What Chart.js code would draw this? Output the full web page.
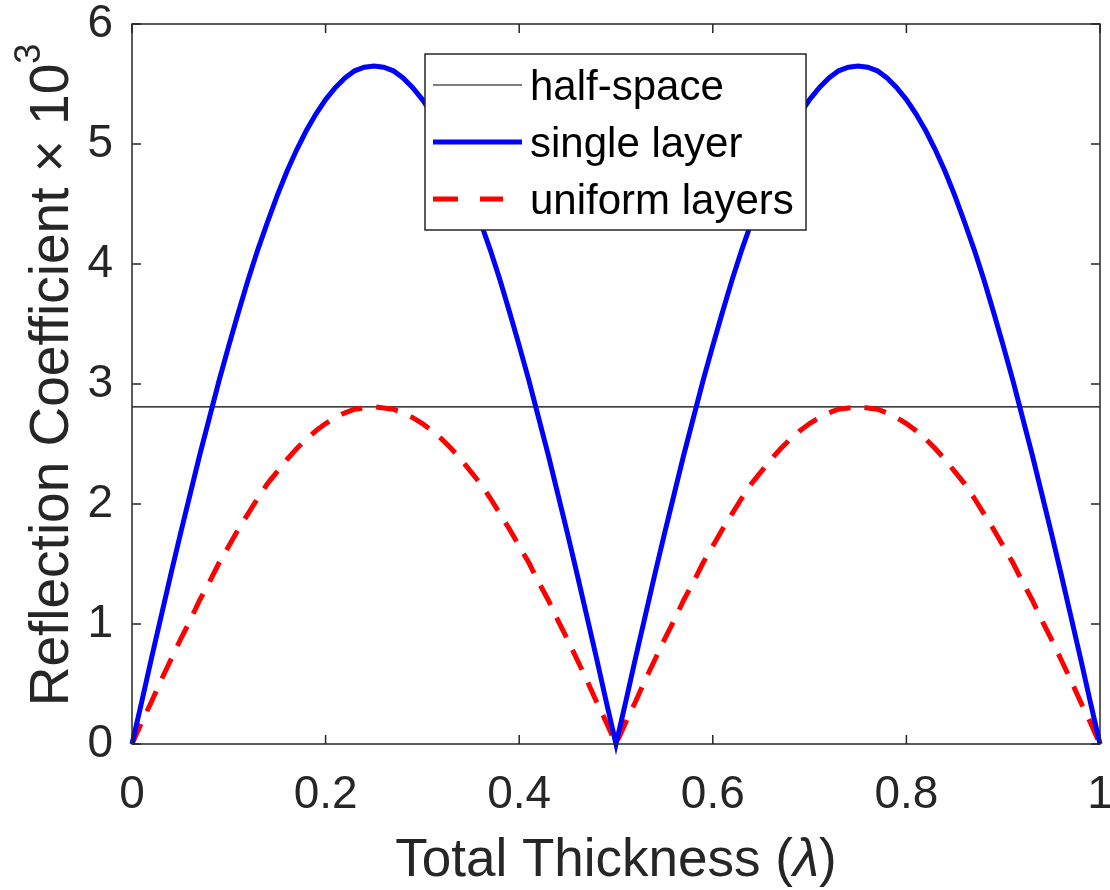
<!DOCTYPE html>
<html>
<head>
<meta charset="utf-8">
<script src="https://cdn.jsdelivr.net/npm/chart.js@4.4.1/dist/chart.umd.min.js"></script>
<style>
  html, body { margin: 0; padding: 0; background: #fff; }
  #wrap { width: 1110px; height: 890px; }
</style>
</head>
<body>
<div id="wrap"><canvas id="reflectionChart" width="1110" height="890"></canvas></div>
<script>
// total thickness in wavelengths
const thickness = [0, 0.01, 0.02, 0.03, 0.04, 0.05, 0.06, 0.07, 0.08, 0.09,
  0.1, 0.11, 0.12, 0.13, 0.14, 0.15, 0.16, 0.17, 0.18, 0.19,
  0.2, 0.21, 0.22, 0.23, 0.24, 0.25, 0.26, 0.27, 0.28, 0.29,
  0.3, 0.31, 0.32, 0.33, 0.34, 0.35, 0.36, 0.37, 0.38, 0.39,
  0.4, 0.41, 0.42, 0.43, 0.44, 0.45, 0.46, 0.47, 0.48, 0.49,
  0.5, 0.51, 0.52, 0.53, 0.54, 0.55, 0.56, 0.57, 0.58, 0.59,
  0.6, 0.61, 0.62, 0.63, 0.64, 0.65, 0.66, 0.67, 0.68, 0.69,
  0.7, 0.71, 0.72, 0.73, 0.74, 0.75, 0.76, 0.77, 0.78, 0.79,
  0.8, 0.81, 0.82, 0.83, 0.84, 0.85, 0.86, 0.87, 0.88, 0.89,
  0.9, 0.91, 0.92, 0.93, 0.94, 0.95, 0.96, 0.97, 0.98, 0.99, 1];

// reflection coefficient x 10^3
const singleLayer = [0, 0.35, 0.71, 1.06, 1.41, 1.75, 2.08, 2.41, 2.72, 3.03,
  3.32, 3.60, 3.87, 4.12, 4.35, 4.57, 4.77, 4.95, 5.11, 5.25,
  5.37, 5.47, 5.55, 5.61, 5.64, 5.65, 5.64, 5.61, 5.55, 5.47,
  5.37, 5.25, 5.11, 4.95, 4.77, 4.57, 4.35, 4.12, 3.87, 3.60,
  3.32, 3.03, 2.72, 2.41, 2.08, 1.75, 1.41, 1.06, 0.71, 0.35,
  0, 0.35, 0.71, 1.06, 1.41, 1.75, 2.08, 2.41, 2.72, 3.03,
  3.32, 3.60, 3.87, 4.12, 4.35, 4.57, 4.77, 4.95, 5.11, 5.25,
  5.37, 5.47, 5.55, 5.61, 5.64, 5.65, 5.64, 5.61, 5.55, 5.47,
  5.37, 5.25, 5.11, 4.95, 4.77, 4.57, 4.35, 4.12, 3.87, 3.60,
  3.32, 3.03, 2.72, 2.41, 2.08, 1.75, 1.41, 1.06, 0.71, 0.35, 0];

const uniformLayers = [0, 0.18, 0.35, 0.53, 0.70, 0.87, 1.03, 1.20, 1.35, 1.51,
  1.65, 1.79, 1.92, 2.05, 2.17, 2.27, 2.37, 2.46, 2.54, 2.61,
  2.67, 2.72, 2.76, 2.79, 2.80, 2.81, 2.80, 2.79, 2.76, 2.72,
  2.67, 2.61, 2.54, 2.46, 2.37, 2.27, 2.17, 2.05, 1.92, 1.79,
  1.65, 1.51, 1.35, 1.20, 1.03, 0.87, 0.70, 0.53, 0.35, 0.18,
  0, 0.18, 0.35, 0.53, 0.70, 0.87, 1.03, 1.20, 1.35, 1.51,
  1.65, 1.79, 1.92, 2.05, 2.17, 2.27, 2.37, 2.46, 2.54, 2.61,
  2.67, 2.72, 2.76, 2.79, 2.80, 2.81, 2.80, 2.79, 2.76, 2.72,
  2.67, 2.61, 2.54, 2.46, 2.37, 2.27, 2.17, 2.05, 1.92, 1.79,
  1.65, 1.51, 1.35, 1.20, 1.03, 0.87, 0.70, 0.53, 0.35, 0.18, 0];

const halfSpaceX = [0, 1];
const halfSpace = [2.81, 2.81];

const xTickLabels = ['0', '0.2', '0.4', '0.6', '0.8', '1'];
const yTickLabels = ['0', '1', '2', '3', '4', '5', '6'];

const xTitleParts = ['Total Thickness (', 'λ', ')'];
const yTitleParts = ['Reflection Coefficient × 10', '3'];

const axisColor = '#262626';
const fontFamily = '"Liberation Sans", Arial, Helvetica, sans-serif';

function toPoints(xs, ys) {
  return xs.map((x, i) => ({ x: x, y: ys[i] }));
}

// matlab style box with inward ticks on all four sides
const axesBox = {
  id: 'axesBox',
  afterDatasetsDraw(chart) {
    const { ctx, chartArea: a, scales } = chart;
    const len = 9;
    ctx.save();
    ctx.strokeStyle = axisColor;
    ctx.lineWidth = 1.5;
    ctx.strokeRect(a.left, a.top, a.right - a.left, a.bottom - a.top);
    ctx.beginPath();
    scales.x.ticks.forEach(t => {
      const px = scales.x.getPixelForValue(t.value);
      ctx.moveTo(px, a.bottom); ctx.lineTo(px, a.bottom - len);
      ctx.moveTo(px, a.top); ctx.lineTo(px, a.top + len);
    });
    scales.y.ticks.forEach(t => {
      const py = scales.y.getPixelForValue(t.value);
      ctx.moveTo(a.left, py); ctx.lineTo(a.left + len, py);
      ctx.moveTo(a.right, py); ctx.lineTo(a.right - len, py);
    });
    ctx.stroke();
    ctx.restore();
  }
};

// text runs with mixed fonts (italic lambda, superscript)
function runsWidth(ctx, runs) {
  return runs.reduce((w, r) => { ctx.font = r.font; return w + ctx.measureText(r.text).width; }, 0);
}
function drawRuns(ctx, runs, x, y) {
  runs.forEach(r => {
    ctx.font = r.font;
    ctx.fillText(r.text, x, y - (r.rise || 0));
    x += ctx.measureText(r.text).width;
  });
}

const axisTitles = {
  id: 'axisTitles',
  afterDraw(chart) {
    const { ctx, chartArea: a } = chart;
    ctx.save();
    ctx.fillStyle = axisColor;
    ctx.textBaseline = 'alphabetic';
    ctx.textAlign = 'left';

    const xRuns = [
      { text: xTitleParts[0], font: '53px ' + fontFamily },
      { text: xTitleParts[1], font: 'italic 53px ' + fontFamily },
      { text: xTitleParts[2], font: '53px ' + fontFamily }
    ];
    const xw = runsWidth(ctx, xRuns);
    drawRuns(ctx, xRuns, (a.left + a.right) / 2 - xw / 2, 876);

    const yRuns = [
      { text: yTitleParts[0], font: '55px ' + fontFamily },
      { text: yTitleParts[1], font: '36px ' + fontFamily, rise: 28 }
    ];
    const yw = runsWidth(ctx, yRuns);
    ctx.translate(68, (a.top + a.bottom) / 2 - 9);
    ctx.rotate(-Math.PI / 2);
    drawRuns(ctx, yRuns, -yw / 2, 0);
    ctx.restore();
  }
};

// boxed legend inside the plot
const boxLegend = {
  id: 'boxLegend',
  afterDraw(chart) {
    const ctx = chart.ctx;
    const x0 = 425, y0 = 54, w = 381, h = 176;
    const firstRow = 85, rowH = 57;
    ctx.save();
    ctx.fillStyle = '#fff';
    ctx.fillRect(x0, y0, w, h);
    ctx.strokeStyle = axisColor;
    ctx.lineWidth = 1.5;
    ctx.strokeRect(x0, y0, w, h);
    chart.data.datasets.forEach((ds, i) => {
      const y = firstRow + i * rowH;
      ctx.beginPath();
      ctx.strokeStyle = ds.borderColor;
      ctx.lineWidth = ds.borderWidth;
      ctx.setLineDash(ds.borderDash ? [25, 22] : []);
      ctx.moveTo(433, y);
      ctx.lineTo(ds.borderDash ? 503 : 522, y);
      ctx.stroke();
      ctx.setLineDash([]);
      ctx.fillStyle = '#000';
      ctx.font = '42px ' + fontFamily;
      ctx.textBaseline = 'middle';
      ctx.fillText(ds.label, 530, y + 3);
    });
    ctx.restore();
  }
};

const ctx = document.getElementById('reflectionChart').getContext('2d');

new Chart(ctx, {
  type: 'scatter',
  data: {
    datasets: [
      {
        label: 'half-space',
        data: toPoints(halfSpaceX, halfSpace),
        showLine: true,
        borderColor: '#000000',
        borderWidth: 1.2,
        pointRadius: 0,
        order: 2
      },
      {
        label: 'single layer',
        data: toPoints(thickness, singleLayer),
        showLine: true,
        borderColor: '#0000ff',
        borderWidth: 5,
        pointRadius: 0,
        clip: false,
        order: 0
      },
      {
        label: 'uniform layers',
        data: toPoints(thickness, uniformLayers),
        showLine: true,
        borderColor: '#ff0000',
        borderWidth: 5,
        borderDash: [22, 14],
        pointRadius: 0,
        clip: false,
        order: 1
      }
    ]
  },
  options: {
    responsive: false,
    animation: false,
    layout: { padding: { top: 24, right: 10, left: 0, bottom: 0 } },
    plugins: {
      legend: { display: false },
      tooltip: { enabled: false }
    },
    scales: {
      x: {
        type: 'linear',
        min: 0,
        max: 1,
        grid: { display: false, drawTicks: false },
        border: { display: false },
        ticks: {
          stepSize: 0.2,
          padding: 28,
          color: axisColor,
          font: { family: fontFamily, size: 46, lineHeight: 1 },
          callback: (v, i) => xTickLabels[i]
        },
        title: { display: false },
        afterFit(scale) {
          scale.height = 146;
          scale.paddingLeft = 0;
          scale.paddingRight = 0;
        }
      },
      y: {
        min: 0,
        max: 6,
        grid: { display: false, drawTicks: false },
        border: { display: false },
        ticks: {
          stepSize: 1,
          padding: 19,
          color: axisColor,
          font: { family: fontFamily, size: 46, lineHeight: 1 },
          callback: (v, i) => yTickLabels[i]
        },
        title: { display: false },
        afterFit(scale) {
          scale.width = 132;
          scale.paddingTop = 0;
          scale.paddingBottom = 0;
        }
      }
    }
  },
  plugins: [axesBox, axisTitles, boxLegend]
});
</script>
</body>
</html>
